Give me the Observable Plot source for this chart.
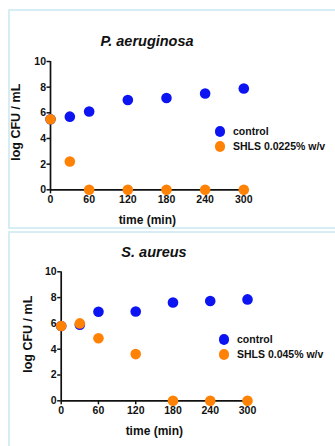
<!DOCTYPE html>
<html>
<head>
<meta charset="utf-8">
<script src="https://cdn.jsdelivr.net/npm/d3@7"></script>
<script src="https://cdn.jsdelivr.net/npm/@observablehq/plot@0.6"></script>
<style>
  html, body { margin: 0; padding: 0; background: #fff; }
  body { width: 335px; height: 446px; position: relative; overflow: hidden;
         font-family: "Liberation Sans", Arial, sans-serif; color: #111; }
  .frame { position: absolute; left: 8px; width: 340px; border: 2px solid #d6edf3; box-sizing: border-box; }
  .abs { position: absolute; white-space: nowrap; }
  .title { font-weight: bold; font-style: italic; font-size: 14.5px; line-height: 14.5px; text-align: center; width: 200px; }
  .xlab { font-weight: bold; font-size: 12px; line-height: 12px; text-align: center; width: 120px; }
  .ylab { font-weight: bold; font-size: 12.5px; line-height: 12.5px; text-align: center; width: 120px; height: 12.5px; transform: rotate(-90deg); }
  .leg { font-weight: bold; font-size: 10.5px; line-height: 15px; }
  .leg div { display: flex; align-items: center; height: 15px; }
  .leg span.dot { display: inline-block; width: 10.5px; height: 10.5px; border-radius: 50%; margin-right: 8px; }
  .plotwrap { position: absolute; left: 0; }
</style>
</head>
<body>
<script>
// ---- data ----
const times = [0, 30, 60, 120, 180, 240, 300];
const paControl = [5.5, 5.7, 6.1, 7.0, 7.15, 7.5, 7.9];
const paSHLS = [5.5, 2.2, 0, 0, 0, 0, 0];
const saControl = [5.8, 5.9, 6.9, 6.92, 7.62, 7.74, 7.86];
const saSHLS = [5.8, 6.0, 4.85, 3.62, 0, 0, 0];
const xTicks = [0, 60, 120, 180, 240, 300];
const yTicks = [0, 2, 4, 6, 8, 10];
const seriesNames = ["control", "SHLS"];
const titles = ["P. aeruginosa", "S. aureus"];
const legendLabels = [["control", "SHLS 0.0225% w/v"], ["control", "SHLS 0.045% w/v"]];
const xLabel = "time (min)";
const yLabel = "log CFU / mL";
const colors = ["#0d14f2", "#ff8205"];

function rows(ctrl, shls) {
  return [
    ...times.map((t, i) => ({ t, v: ctrl[i], s: seriesNames[0] })),
    ...times.map((t, i) => ({ t, v: shls[i], s: seriesNames[1] }))
  ];
}

function makePlot(data, m) {
  return Plot.plot({
    width: 335,
    height: m.h,
    marginLeft: m.l, marginRight: m.r, marginTop: m.t, marginBottom: m.b,
    x: { domain: [0, 300] },
    y: { domain: [0, 10] },
    color: { domain: seriesNames, range: colors },
    style: { fontFamily: "'Liberation Sans', Arial, sans-serif", fontWeight: "bold", fontSize: "10.5px",
             color: "#111", background: "transparent", overflow: "visible" },
    marks: [
      Plot.axisX({ ticks: xTicks, tickSize: 4, tickPadding: 2, label: null, strokeWidth: 1.5 }),
      Plot.axisY({ ticks: yTicks, tickSize: 3.5, tickPadding: 1, label: null, strokeWidth: 1.5 }),
      Plot.ruleY([0], { strokeWidth: 1.7, stroke: "#111" }),
      Plot.ruleX([0], { strokeWidth: 1.7, stroke: "#111" }),
      Plot.dot(data, { x: "t", y: "v", fill: "s", r: 5.3 })
    ]
  });
}

function addDiv(cls, text, css) {
  const d = document.createElement("div");
  d.className = "abs " + cls;
  d.textContent = text;
  Object.assign(d.style, css);
  document.body.appendChild(d);
  return d;
}

function addLegend(labels, left, top) {
  const L = document.createElement("div");
  L.className = "abs leg";
  Object.assign(L.style, { left: left + "px", top: top + "px" });
  labels.forEach((lab, i) => {
    const row = document.createElement("div");
    const dot = document.createElement("span");
    dot.className = "dot";
    dot.style.background = colors[i];
    row.appendChild(dot);
    row.appendChild(document.createTextNode(lab));
    L.appendChild(row);
  });
  document.body.appendChild(L);
}

// panel frames
addDiv("frame", "", { top: "9px", height: "220px" });
addDiv("frame", "", { top: "231px", height: "230px" });

// panel 1
const w1 = document.createElement("div");
w1.className = "plotwrap"; w1.style.top = "0px";
w1.appendChild(makePlot(rows(paControl, paSHLS), { h: 228, l: 50, r: 91.7, t: 61, b: 38.7 }));
document.body.appendChild(w1);

// panel 2
const w2 = document.createElement("div");
w2.className = "plotwrap"; w2.style.top = "231px";
w2.appendChild(makePlot(rows(saControl, saSHLS), { h: 215, l: 60.7, r: 88, t: 40.3, b: 45.7 }));
document.body.appendChild(w2);

// texts
addDiv("title", titles[0], { left: (147 - 100) + "px", top: "33.5px" });
addDiv("title", titles[1], { left: (154 - 100) + "px", top: "244.5px" });
addDiv("xlab", xLabel, { left: (147.3 - 60) + "px", top: "214px" });
addDiv("xlab", xLabel, { left: (154.3 - 60) + "px", top: "425px" });
addDiv("ylab", yLabel, { left: (16.2 - 60) + "px", top: (122 - 6.25) + "px" });
addDiv("ylab", yLabel, { left: (27.6 - 60) + "px", top: (334 - 6.25) + "px" });

addLegend(legendLabels[0], 214.5, 124.2);
addLegend(legendLabels[1], 218.5, 331.8);
</script>
</body>
</html>
